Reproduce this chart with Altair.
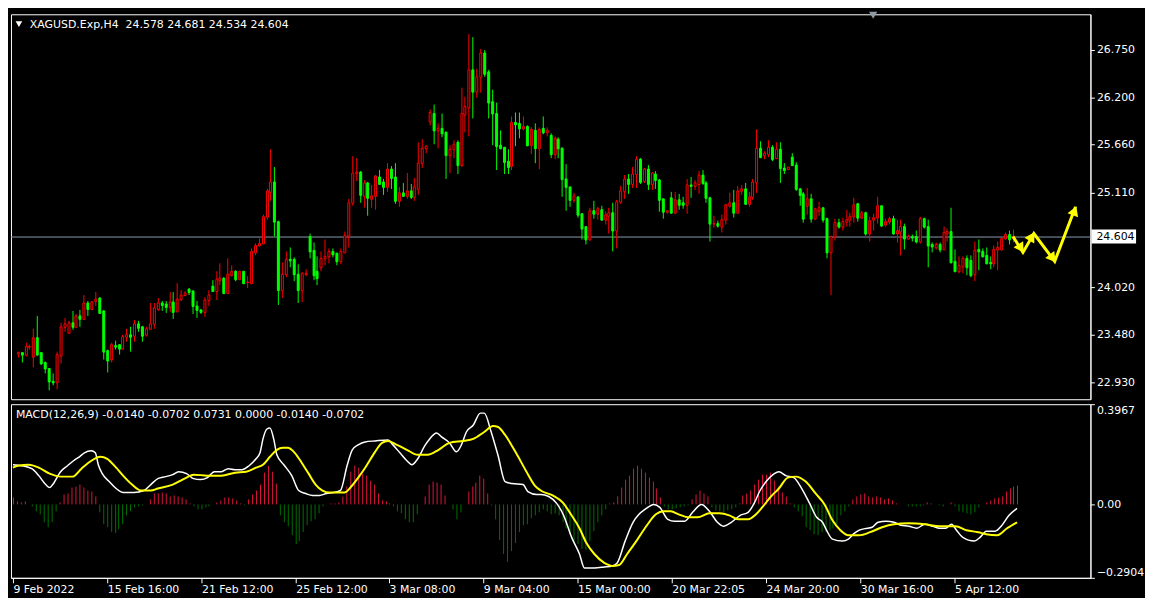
import math
import altair as alt
import pandas as pd

# ---------------- data ----------------
open_ = [23.259, 23.266, 23.248, 23.333, 23.222, 23.444, 23.266, 23.155, 23.089, 22.944,
         22.925, 23.237, 23.563, 23.500, 23.611, 23.570, 23.689, 23.660, 23.845, 23.771,
         23.860, 23.900, 23.745, 23.289, 23.185, 23.352, 23.355, 23.315, 23.452, 23.478,
         23.459, 23.600, 23.567, 23.470, 23.541, 23.600, 23.774, 23.845, 23.823, 23.793,
         23.852, 23.748, 23.882, 23.927, 24.001, 23.982, 23.808, 23.763, 23.741, 23.871,
         24.038, 23.971, 24.101, 24.127, 23.956, 24.164, 24.201, 24.112, 24.201, 24.075,
         24.071, 24.427, 24.497, 24.527, 24.831, 25.121, 25.232, 24.779, 23.990, 24.175,
         24.345, 24.342, 24.175, 23.990, 24.171, 24.601, 24.446, 24.200, 24.250, 24.353,
         24.379, 24.435, 24.405, 24.323, 24.427, 24.620, 24.991, 25.332, 25.350, 25.072,
         25.221, 25.039, 25.076, 25.288, 25.236, 25.169, 25.380, 25.288, 25.017, 25.102,
         25.072, 25.128, 25.065, 25.150, 25.443, 25.621, 25.929, 26.022, 25.825, 25.847,
         25.803, 25.540, 25.603, 25.684, 25.428, 26.010, 26.085, 26.522, 26.270, 26.444,
         26.715, 26.493, 26.159, 26.022, 25.658, 25.629, 25.473, 25.417, 25.914, 25.907,
         25.851, 25.873, 25.651, 25.825, 25.621, 25.847, 25.799, 25.769, 25.554, 25.725,
         25.621, 25.269, 25.180, 25.028, 25.058, 24.868, 24.713, 24.572, 24.898, 24.861,
         24.909, 24.794, 24.843, 24.880, 24.668, 24.998, 25.128, 25.269, 25.213, 25.325,
         25.499, 25.239, 25.380, 25.206, 25.324, 25.257, 25.035, 24.890, 25.046, 24.879,
         25.028, 24.990, 24.972, 25.202, 25.187, 25.213, 25.313, 25.224, 25.054, 24.749,
         24.757, 24.723, 24.794, 24.961, 24.990, 24.879, 25.128, 25.157, 24.979, 25.065,
         25.231, 25.621, 25.543, 25.547, 25.632, 25.506, 25.610, 25.395, 25.380, 25.521,
         25.424, 25.157, 25.091, 24.961, 25.035, 24.805, 24.905, 24.935, 24.805, 24.416,
         24.601, 24.768, 24.713, 24.772, 24.794, 24.835, 24.980, 24.817, 24.880, 24.639,
         24.794, 24.817, 24.954, 24.743, 24.776, 24.813, 24.639, 24.657, 24.724, 24.576,
         24.609, 24.602, 24.546, 24.813, 24.724, 24.513, 24.483, 24.517, 24.461, 24.639,
         24.657, 24.324, 24.201, 24.257, 24.350, 24.335, 24.175, 24.461, 24.435, 24.390,
         24.313, 24.298, 24.454, 24.461, 24.583, 24.628, 24.578]

high_ = [23.285, 23.274, 23.378, 23.359, 23.545, 23.689, 23.274, 23.163, 23.092, 23.026,
         23.278, 23.611, 23.667, 23.637, 23.752, 23.711, 23.756, 23.927, 23.860, 23.867,
         23.964, 23.912, 23.756, 23.304, 23.378, 23.404, 23.363, 23.470, 23.545, 23.563,
         23.645, 23.630, 23.578, 23.563, 23.838, 23.841, 23.897, 23.860, 23.867, 23.964,
         23.964, 24.067, 23.990, 23.978, 24.008, 23.990, 23.860, 23.767, 23.912, 23.986,
         24.101, 24.201, 24.294, 24.142, 24.349, 24.275, 24.212, 24.208, 24.205, 24.149,
         24.468, 24.527, 24.579, 24.860, 25.150, 25.603, 25.406, 24.787, 24.305, 24.434,
         24.479, 24.360, 24.286, 24.193, 24.230, 24.635, 24.535, 24.379, 24.435, 24.568,
         24.472, 24.464, 24.427, 24.472, 24.657, 25.035, 25.528, 25.502, 25.361, 25.258,
         25.232, 25.195, 25.317, 25.373, 25.269, 25.454, 25.410, 25.454, 25.169, 25.224,
         25.336, 25.213, 25.280, 25.684, 25.725, 25.658, 26.066, 26.125, 25.907, 26.014,
         25.810, 25.651, 25.706, 25.714, 26.314, 26.214, 26.937, 26.900, 26.530, 26.759,
         26.745, 26.518, 26.296, 26.148, 25.825, 25.630, 25.603, 25.985, 26.036, 26.036,
         25.981, 25.881, 25.862, 25.903, 25.862, 25.981, 25.855, 25.788, 25.751, 25.747,
         25.632, 25.436, 25.180, 25.102, 25.060, 24.870, 24.720, 24.935, 25.020, 24.946,
         24.961, 24.891, 24.935, 24.991, 25.028, 25.187, 25.313, 25.325, 25.399, 25.528,
         25.500, 25.388, 25.425, 25.350, 25.361, 25.269, 25.040, 24.905, 25.120, 25.120,
         25.091, 25.065, 25.269, 25.287, 25.250, 25.361, 25.369, 25.239, 25.065, 24.842,
         24.787, 24.853, 24.979, 25.102, 25.139, 25.187, 25.194, 25.224, 25.113, 25.261,
         25.836, 25.702, 25.591, 25.714, 25.658, 25.684, 25.691, 25.454, 25.406, 25.565,
         25.461, 25.168, 25.113, 25.168, 25.091, 24.935, 25.002, 24.940, 24.824, 24.616,
         24.805, 24.805, 24.824, 24.917, 24.880, 25.047, 24.991, 24.898, 24.891, 24.832,
         24.869, 25.065, 24.960, 24.806, 24.832, 24.843, 24.795, 24.795, 24.750, 24.624,
         24.628, 24.676, 24.832, 24.824, 24.795, 24.535, 24.535, 24.535, 24.713, 24.694,
         24.935, 24.453, 24.379, 24.379, 24.387, 24.387, 24.546, 24.565, 24.472, 24.483,
         24.372, 24.498, 24.546, 24.602, 24.646, 24.669, 24.681]

low_ = [23.211, 23.155, 23.222, 23.304, 23.100, 23.237, 23.133, 23.026, 22.836, 22.888,
        22.851, 23.148, 23.508, 23.489, 23.526, 23.563, 23.571, 23.652, 23.693, 23.756,
        23.804, 23.711, 23.192, 23.044, 23.155, 23.304, 23.248, 23.304, 23.396, 23.285,
        23.396, 23.508, 23.393, 23.452, 23.537, 23.545, 23.748, 23.748, 23.730, 23.741,
        23.656, 23.730, 23.860, 23.915, 23.934, 23.711, 23.667, 23.711, 23.682, 23.804,
        23.971, 23.871, 24.045, 23.941, 23.941, 24.149, 24.090, 24.105, 24.060, 24.008,
        24.060, 24.390, 24.490, 24.520, 24.800, 25.010, 24.602, 23.815, 23.897, 24.138,
        24.249, 24.090, 23.841, 23.849, 24.149, 24.349, 24.100, 24.050, 24.200, 24.268,
        24.300, 24.361, 24.270, 24.286, 24.416, 24.479, 24.961, 25.243, 24.991, 24.935,
        24.843, 24.935, 24.909, 25.206, 25.084, 25.113, 25.150, 24.983, 24.946, 25.058,
        25.035, 25.035, 25.020, 25.084, 25.391, 25.566, 25.881, 25.669, 25.614, 25.740,
        25.269, 25.336, 25.510, 25.324, 25.406, 25.806, 25.762, 25.962, 26.196, 26.259,
        26.444, 25.962, 25.658, 25.369, 25.603, 25.324, 25.324, 25.369, 25.640, 25.732,
        25.825, 25.645, 25.547, 25.443, 25.380, 25.777, 25.751, 25.502, 25.491, 25.510,
        25.065, 24.906, 24.943, 24.991, 24.817, 24.572, 24.509, 24.557, 24.813, 24.794,
        24.787, 24.742, 24.639, 24.435, 24.472, 24.980, 25.039, 25.091, 25.158, 25.165,
        25.213, 25.224, 25.139, 25.139, 25.157, 24.890, 24.805, 24.861, 24.876, 24.872,
        24.913, 24.928, 24.861, 25.046, 25.146, 25.091, 25.194, 24.991, 24.546, 24.705,
        24.712, 24.646, 24.742, 24.935, 24.816, 24.861, 25.083, 24.965, 24.942, 25.028,
        25.102, 25.510, 25.498, 25.521, 25.473, 25.498, 25.224, 25.324, 25.372, 25.417,
        25.128, 24.957, 24.768, 24.853, 24.768, 24.794, 24.842, 24.768, 24.349, 23.934,
        24.557, 24.694, 24.668, 24.720, 24.713, 24.769, 24.772, 24.806, 24.617, 24.546,
        24.676, 24.750, 24.720, 24.720, 24.743, 24.631, 24.535, 24.390, 24.461, 24.565,
        24.546, 24.520, 24.520, 24.694, 24.250, 24.416, 24.461, 24.416, 24.453, 24.546,
        24.298, 24.200, 24.187, 24.187, 24.164, 24.138, 24.090, 24.213, 24.361, 24.287,
        24.224, 24.246, 24.213, 24.442, 24.565, 24.509, 24.534]

close_ = [23.274, 23.248, 23.333, 23.341, 23.444, 23.244, 23.144, 23.081, 22.933, 22.922,
          23.241, 23.563, 23.600, 23.615, 23.567, 23.689, 23.656, 23.845, 23.767, 23.852,
          23.889, 23.730, 23.281, 23.178, 23.355, 23.341, 23.315, 23.456, 23.478, 23.448,
          23.600, 23.559, 23.459, 23.545, 23.600, 23.778, 23.845, 23.815, 23.793, 23.852,
          23.737, 23.889, 23.934, 23.956, 23.964, 23.804, 23.756, 23.734, 23.875, 23.934,
          23.982, 24.112, 24.127, 23.956, 24.168, 24.201, 24.112, 24.201, 24.071, 24.079,
          24.434, 24.497, 24.523, 24.831, 25.128, 25.232, 24.772, 23.990, 24.175, 24.345,
          24.331, 24.175, 23.990, 24.182, 24.186, 24.435, 24.160, 24.120, 24.353, 24.379,
          24.435, 24.398, 24.323, 24.435, 24.613, 24.991, 25.336, 25.350, 25.084, 25.221,
          25.046, 25.076, 25.295, 25.213, 25.169, 25.380, 25.280, 25.017, 25.102, 25.072,
          25.132, 25.058, 25.169, 25.443, 25.621, 25.640, 26.036, 25.825, 25.847, 25.795,
          25.540, 25.610, 25.669, 25.428, 26.022, 26.103, 26.522, 26.270, 26.444, 26.715,
          26.481, 26.148, 26.018, 25.647, 25.614, 25.462, 25.406, 25.914, 25.896, 25.851,
          25.870, 25.651, 25.836, 25.621, 25.836, 25.799, 25.821, 25.547, 25.732, 25.614,
          25.261, 25.172, 25.032, 25.072, 24.850, 24.694, 24.572, 24.898, 24.861, 24.924,
          24.794, 24.850, 24.880, 24.668, 25.002, 25.132, 25.269, 25.213, 25.325, 25.499,
          25.232, 25.380, 25.213, 25.336, 25.250, 25.028, 24.890, 24.898, 24.879, 25.028,
          24.972, 24.972, 25.202, 25.183, 25.224, 25.313, 25.220, 25.054, 24.749, 24.757,
          24.731, 24.801, 24.965, 24.987, 24.879, 25.131, 25.157, 24.979, 25.065, 25.231,
          25.621, 25.521, 25.565, 25.632, 25.491, 25.610, 25.391, 25.372, 25.398, 25.424,
          25.150, 25.083, 24.805, 25.035, 24.805, 24.924, 24.935, 24.794, 24.423, 24.609,
          24.768, 24.720, 24.779, 24.802, 24.835, 24.965, 24.817, 24.880, 24.639, 24.787,
          24.824, 24.954, 24.732, 24.780, 24.813, 24.639, 24.669, 24.724, 24.576, 24.609,
          24.594, 24.546, 24.813, 24.713, 24.502, 24.491, 24.517, 24.461, 24.646, 24.665,
          24.313, 24.201, 24.268, 24.350, 24.250, 24.164, 24.446, 24.435, 24.379, 24.298,
          24.294, 24.461, 24.480, 24.583, 24.628, 24.572, 24.604]

# MACD main line (white) – bar index / value
macd_i = [0, 2.3, 4.9, 6.7, 8.5, 9.4, 10.3, 12.1, 13.9, 15.6, 17.0, 18.3, 20.1, 21.0, 21.9, 22.8,
          24.6, 26.4, 28.2, 30.8, 33.5, 35.3, 37.1, 38.9, 40.7, 42.4, 44.2, 46.0, 47.8, 49.6,
          51.4, 53.2, 54.9, 56.7, 58.5, 60.3, 62.1, 63.0, 63.9, 64.8, 65.6, 66.5, 67.4, 69.2,
          71.0, 72.8, 74.6, 76.4, 78.2, 79.9, 81.7, 83.5, 85.3, 86.6, 88.0, 89.8, 92.4, 95.6,
          96.9, 98.7, 100.5, 101.8, 103.2, 104.9, 106.3, 108.1, 109.4, 111.2, 113.0, 114.3,
          115.7, 117.4, 119.2, 120.1, 121.9, 123.7, 125.5, 127.3, 129.9, 131.3, 133.5, 134.6,
          136.5, 138.5, 140.4, 142.4, 144.3, 145.8, 148.3, 150.7, 152.7, 154.1, 156.1, 158.0,
          159.5, 161.0, 163.4, 164.9, 166.8, 168.8, 171.2, 173.2, 175.6, 177.6, 179.5, 181.0,
          183.0, 185.4, 187.4, 188.8, 190.3, 192.2, 193.7, 195.2, 197.1, 199.1, 201.0, 203.0,
          204.9, 206.4, 207.4, 208.9, 211.3, 212.8, 214.2, 215.7, 217.7, 219.1, 220.6, 222.5,
          224.5, 226.4, 228.4, 230.4, 232.3, 234.3, 236.2, 237.7, 239.1, 240.6, 242.1, 245.0,
          246.5, 248.0, 250.4, 251.9, 253.8, 256.0]
macd_v = [0.159, 0.153, 0.140, 0.115, 0.077, 0.068, 0.077, 0.128, 0.153, 0.172, 0.188, 0.204,
          0.213, 0.204, 0.159, 0.121, 0.089, 0.064, 0.048, 0.048, 0.054, 0.080, 0.102, 0.111,
          0.119, 0.128, 0.121, 0.102, 0.098, 0.105, 0.128, 0.131, 0.140, 0.136, 0.136, 0.153,
          0.179, 0.204, 0.261, 0.300, 0.302, 0.255, 0.198, 0.159, 0.115, 0.057, 0.045, 0.034,
          0.036, 0.045, 0.047, 0.057, 0.159, 0.217, 0.236, 0.249, 0.251, 0.255, 0.236, 0.204,
          0.172, 0.159, 0.179, 0.230, 0.261, 0.284, 0.268, 0.242, 0.208, 0.236, 0.287, 0.313,
          0.361, 0.361, 0.287, 0.191, 0.089, 0.083, 0.077, 0.051, 0.038, 0.038,
          0.032, 0.006, -0.045, -0.128, -0.198, -0.251, -0.251, -0.249, -0.242, -0.230,
          -0.147, -0.070, -0.038, -0.019, 0.000, -0.013, -0.057, -0.068, -0.068, -0.032,
          0.000, -0.026, -0.070, -0.087, -0.070, -0.045, -0.032, 0.006, 0.057, 0.096, 0.119,
          0.131, 0.115, 0.108, 0.064, 0.006, -0.051, -0.070, -0.102, -0.136, -0.144, -0.136,
          -0.119, -0.102, -0.096, -0.089, -0.070, -0.068, -0.070, -0.083, -0.085, -0.093,
          -0.077, -0.085, -0.096, -0.093, -0.077, -0.102, -0.128, -0.144, -0.128, -0.106,
          -0.106, -0.085, -0.042, -0.014]

# Signal line (yellow)
sig_i = [0, 1.4, 4.0, 6.7, 9.4, 12.1, 15.2, 17.4, 20.1, 22.4, 24.1, 26.4, 28.2, 30.4, 32.6,
         35.3, 37.1, 40.7, 44.2, 46.0, 49.6, 53.2, 56.7, 59.4, 62.1, 63.9, 65.6, 67.4, 68.8,
         70.1, 71.9, 73.7, 75.5, 77.3, 79.0, 80.8, 84.4, 86.2, 88.0, 89.8, 92.4, 94.2, 95.6,
         97.8, 100.5, 103.2, 105.8, 108.5, 111.2, 114.8, 117.4, 120.1, 122.3, 123.7, 125.5,
         128.2, 130.8, 133.1, 134.6, 137.5, 140.0, 142.4, 144.3, 146.3, 148.3, 150.7, 152.7,
         154.6, 156.6, 159.0, 161.5, 163.9, 165.9, 167.8, 169.8, 172.2, 174.6, 177.6, 180.0,
         182.5, 184.9, 187.4, 189.3, 191.3, 193.2, 195.2, 197.6, 199.6, 202.0, 204.5, 206.9,
         208.9, 210.8, 212.8, 215.7, 218.6, 221.6, 224.5, 228.4, 232.3, 236.2, 240.1, 243.1,
         246.0, 248.0, 250.9, 253.3, 256.0]
sig_v = [0.147, 0.153, 0.159, 0.147, 0.121, 0.112, 0.112, 0.140, 0.172, 0.188, 0.179, 0.147,
         0.115, 0.077, 0.055, 0.055, 0.064, 0.080, 0.108, 0.119, 0.115, 0.115, 0.124, 0.131,
         0.144, 0.159, 0.188, 0.217, 0.223, 0.223, 0.204, 0.166, 0.121, 0.080, 0.057, 0.048,
         0.048, 0.070, 0.108, 0.147, 0.210, 0.242, 0.251, 0.236, 0.217, 0.195, 0.195, 0.217,
         0.242, 0.251, 0.261, 0.287, 0.310, 0.306, 0.274, 0.204, 0.134, 0.073, 0.057, 0.034,
         0.009, -0.045, -0.096, -0.153, -0.198, -0.230, -0.242, -0.239, -0.198, -0.140,
         -0.083, -0.038, -0.026, -0.026, -0.038, -0.051, -0.051, -0.034, -0.034, -0.045,
         -0.060, -0.057, -0.038, -0.006, 0.032, 0.064, 0.105, 0.112, 0.089, 0.045, 0.000,
         -0.064, -0.102, -0.121, -0.121, -0.108, -0.089, -0.077, -0.074, -0.077, -0.085,
         -0.085, -0.102, -0.111, -0.119, -0.121, -0.096, -0.070]

# MACD histogram, one value per bar
hist_v = [0.026, 0.013, 0.009, 0.013, 0.002, -0.006, -0.026, -0.038, -0.070, -0.089,
          -0.070, -0.026, 0.009, 0.038, 0.045, 0.068, 0.070, 0.077, 0.068, 0.057,
          0.051, 0.032, -0.032, -0.077, -0.089, -0.111, -0.115, -0.098, -0.080, -0.045,
          -0.026, -0.013, -0.006, -0.003, 0.002, 0.019, 0.042, 0.045, 0.047, 0.042,
          0.032, 0.034, 0.032, 0.029, 0.019, 0.006, -0.006, -0.019, -0.019, -0.013,
          -0.006, 0.002, 0.009, 0.017, 0.029, 0.026, 0.022, 0.017, 0.006, -0.004,
          0.019, 0.038, 0.057, 0.080, 0.124, 0.153, 0.128, 0.083, -0.045, -0.070,
          -0.085, -0.121, -0.157, -0.147, -0.108, -0.083, -0.068, -0.057, -0.034, -0.006,
          0.002, 0.004, 0.004, 0.009, 0.032, 0.070, 0.131, 0.153, 0.147, 0.121,
          0.115, 0.096, 0.080, 0.045, 0.017, 0.013, 0.004, -0.009, -0.026, -0.034,
          -0.060, -0.070, -0.070, -0.038, 0.002, 0.032, 0.080, 0.089, 0.085, 0.077,
          0.034, 0.002, -0.019, -0.060, -0.032, 0.000, 0.051, 0.070, 0.085, 0.115,
          0.102, 0.045, -0.002, -0.057, -0.140, -0.195, -0.226, -0.185, -0.153, -0.111,
          -0.083, -0.077, -0.055, -0.045, -0.032, -0.019, -0.026, -0.038, -0.034, -0.045,
          -0.070, -0.096, -0.121, -0.147, -0.157, -0.175, -0.179, -0.144, -0.106, -0.070,
          -0.045, -0.019, 0.006, 0.009, 0.032, 0.068, 0.098, 0.115, 0.140, 0.153,
          0.140, 0.124, 0.108, 0.089, 0.064, 0.026, -0.009, -0.019, -0.019, -0.017,
          -0.013, -0.006, -0.002, 0.019, 0.038, 0.057, 0.042, 0.032, -0.013, -0.022,
          -0.026, -0.032, -0.022, -0.019, -0.013, 0.006, 0.034, 0.045, 0.055, 0.080,
          0.098, 0.119, 0.119, 0.124, 0.096, 0.070, 0.047, 0.032, 0.006, -0.013,
          -0.026, -0.047, -0.089, -0.102, -0.119, -0.121, -0.111, -0.108, -0.102, -0.096,
          -0.077, -0.045, -0.026, -0.006, 0.019, 0.032, 0.038, 0.042, 0.032, 0.029,
          0.032, 0.026, 0.019, 0.022, 0.017, 0.004, 0.000, -0.001, -0.006, -0.006,
          -0.009, -0.006, -0.004, 0.009, 0.004, 0.001, -0.004, -0.006, 0.000, 0.009,
          -0.009, -0.026, -0.032, -0.034, -0.038, -0.032, -0.013, 0.000, 0.009, 0.017,
          0.022, 0.026, 0.032, 0.051, 0.064, 0.070, 0.0731]

# hand-drawn forecast arrows (bar index, price)
arrow_i = [256.1, 258.6, 261.4, 266.8, 272.1]
arrow_p = [24.602, 24.424, 24.638, 24.320, 24.943]

price_ticks = [26.750, 26.200, 25.660, 25.110, 24.020, 23.480, 22.930]
macd_ticks = [0.3967, 0.0, -0.2904]
time_idx = [0, 24, 48, 72, 96, 120, 144, 168, 192, 216, 240]
time_txt = ["9 Feb 2022", "15 Feb 16:00", "21 Feb 12:00", "25 Feb 12:00", "3 Mar 08:00",
            "9 Mar 04:00", "15 Mar 00:00", "20 Mar 22:05", "24 Mar 20:00", "30 Mar 16:00",
            "5 Apr 12:00"]
symbol = "XAGUSD.Exp,H4"
macd_title = "MACD(12,26,9) -0.0140 -0.0702 0.0731 0.0000 -0.0140 -0.0702"

# ---------------- layout / style ----------------
W = 1088
H_MAIN = 388
H_MACD = 175
X_DOM = [-0.425, 274.6]
P_DOM = [22.733, 27.16]
M_DOM = [-0.2904, 0.3967]
FONT = "DejaVu Sans"
RED = "#ff0000"
GREEN = "#00ff00"
YELLOW = "#ffff00"
H_RED = "#dc143c"
H_GREEN = "#007000"

px_i = W / (X_DOM[1] - X_DOM[0])
px_p = H_MAIN / (P_DOM[1] - P_DOM[0])

n = len(close_)
df = pd.DataFrame({"i": list(range(n)), "o": open_, "h": high_, "l": low_, "c": close_})
df["top"] = df[["o", "c"]].max(axis=1)
df["bot"] = df[["o", "c"]].min(axis=1)

xs = alt.Scale(domain=X_DOM, nice=False, zero=False, round=True)
ys = alt.Scale(domain=P_DOM, nice=False, zero=False, round=True)
ms = alt.Scale(domain=M_DOM, nice=False, zero=False, round=True)

price_axis = alt.Axis(orient="right", values=price_ticks, format=".3f", title=None, grid=False,
                      tickSize=4, labelPadding=2, labelOverlap=False, labelFlush=False)


def X(field):
    return alt.X(field, type="quantitative", scale=xs, axis=None)


def PY(field):
    return alt.Y(field, type="quantitative", scale=ys, axis=price_axis)


up = "datum.c >= datum.o"

bid = alt.Chart(pd.DataFrame({"p": [close_[-1]]})).mark_rule(
    color="#8a9aad", strokeWidth=1, yOffset=0.5).encode(y=PY("p"))

wicks = alt.Chart(df).mark_rule(strokeWidth=1, xOffset=0.5).encode(
    x=X("i"), y=PY("l"), y2="h:Q",
    color=alt.condition(up, alt.value(RED), alt.value(GREEN)))

bodies = alt.Chart(df).mark_bar(size=2, strokeWidth=1, xOffset=0.5, yOffset=0.5).encode(
    x=X("i"), y=PY("bot"), y2="top:Q",
    fill=alt.condition(up, alt.value("#000000"), alt.value(GREEN)),
    stroke=alt.condition(up, alt.value(RED), alt.value(GREEN)))

# arrows
arr = pd.DataFrame({"i": arrow_i, "p": arrow_p, "k": list(range(len(arrow_i)))})
heads = []
for a in range(1, len(arrow_i)):
    dx = (arrow_i[a] - arrow_i[a - 1]) * px_i
    dy = -(arrow_p[a] - arrow_p[a - 1]) * px_p
    ln = math.hypot(dx, dy)
    ux, uy = dx / ln, dy / ln
    ang = math.degrees(math.atan2(dx, -dy)) % 360
    heads.append({"i": arrow_i[a] - 4 * ux / px_i, "p": arrow_p[a] + 4 * uy / px_p, "ang": ang})
heads = pd.DataFrame(heads)

arrow_line = alt.Chart(arr).mark_line(color=YELLOW, strokeWidth=3).encode(
    x=X("i"), y=PY("p"), order="k:Q")
arrow_heads = alt.Chart(heads).mark_point(shape="triangle-up", filled=True, color=YELLOW,
                                          size=130, opacity=1).encode(
    x=X("i"), y=PY("p"), angle=alt.Angle("ang:Q", scale=None))

# current price box on the axis
half = 7 / px_p
box_df = pd.DataFrame({"p": [close_[-1]], "lo": [close_[-1] - half], "hi": [close_[-1] + half],
                       "lbl": [f"{close_[-1]:.3f}"]})
box = alt.Chart(box_df).mark_rect(color="white").encode(
    x=alt.value(W + 1), x2=alt.value(W + 46), y=PY("lo"), y2="hi:Q")
box_txt = alt.Chart(box_df).mark_text(align="left", baseline="middle", color="black",
                                      font=FONT, fontSize=11).encode(
    x=alt.value(W + 6), y=PY("p"), text="lbl:N")

title_str = f"{symbol}\u00a0 {open_[-1]:.3f} {high_[-1]:.3f} {low_[-1]:.3f} {close_[-1]:.3f}"
one = pd.DataFrame({"t": [title_str], "m": [macd_title]})
title = alt.Chart(one).mark_text(align="left", baseline="middle", color="white",
                                 font=FONT, fontSize=11).encode(
    x=alt.value(19), y=alt.value(11), text="t:N")
tri = alt.Chart(one).mark_point(shape="triangle-down", filled=True, color="white",
                                size=45, opacity=1).encode(x=alt.value(8), y=alt.value(10))
shift = alt.Chart(one).mark_point(shape="triangle-down", filled=True, color="#8c99a6",
                                  size=70, opacity=1).encode(x=alt.value(869), y=alt.value(1))

main = alt.layer(bid, wicks, bodies, arrow_line, arrow_heads, box, box_txt, title, tri,
                 shift).properties(width=W, height=H_MAIN)

# ---------------- MACD panel ----------------
time_expr = ("[" + ",".join(f"'{t}'" for t in time_txt) + "][indexof(["
             + ",".join(str(v) for v in time_idx) + "], datum.value)]")
x_axis = alt.Axis(orient="bottom", values=time_idx, labelExpr=time_expr, title=None, grid=False,
                  tickSize=5, labelPadding=1, labelAlign="left", labelBaseline="top",
                  labelFlush=False, labelOverlap=False)
macd_axis = alt.Axis(orient="right", values=macd_ticks, title=None, grid=False, tickSize=4,
                     labelPadding=2, labelOverlap=False, labelFlush=False,
                     labelExpr="abs(datum.value) < 1e-9 ? '0.00' : format(datum.value, '.4f')",
                     labelBaseline={"condition": [{"test": "datum.value > 0.3", "value": "top"},
                                                  {"test": "datum.value < -0.2", "value": "bottom"}],
                                    "value": "middle"})


def MX(field):
    return alt.X(field, type="quantitative", scale=xs, axis=x_axis)


def MY(field):
    return alt.Y(field, type="quantitative", scale=ms, axis=macd_axis)


hist_df = pd.DataFrame({"i": list(range(len(hist_v))), "h": hist_v, "z": 0.0})
hist = alt.Chart(hist_df).mark_rule(strokeWidth=1, xOffset=0.5).encode(
    x=MX("i"), y=MY("z"), y2="h:Q",
    color=alt.condition("datum.h >= 0", alt.value(H_RED), alt.value(H_GREEN)))
white = alt.Chart(pd.DataFrame({"i": macd_i, "v": macd_v})).mark_line(
    color="white", strokeWidth=1.5, interpolate="monotone").encode(x=MX("i"), y=MY("v"))
yellow = alt.Chart(pd.DataFrame({"i": sig_i, "v": sig_v})).mark_line(
    color=YELLOW, strokeWidth=2, interpolate="monotone").encode(x=MX("i"), y=MY("v"))
mtitle = alt.Chart(one).mark_text(align="left", baseline="middle", color="white",
                                  font=FONT, fontSize=11).encode(
    x=alt.value(5), y=alt.value(11), text="m:N")

macd = alt.layer(hist, white, yellow, mtitle).properties(width=W, height=H_MACD)

chart = alt.vconcat(main, macd, spacing=3).properties(
    background="black", padding=0
).configure_view(
    stroke="white", strokeWidth=1
).configure_axis(
    labelColor="white", tickColor="white", domainColor="white", labelFont=FONT,
    labelFontSize=11, domainWidth=1, tickWidth=1
)

chart.save("out.html", embed_options={"renderer": "svg", "actions": False})
